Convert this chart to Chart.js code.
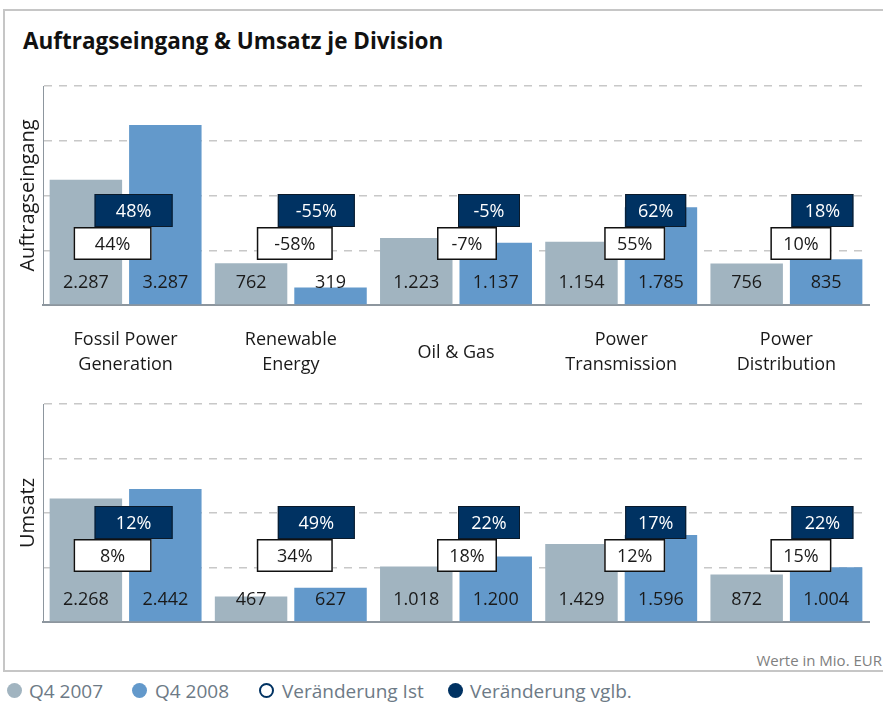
<!DOCTYPE html>
<html>
<head>
<meta charset="utf-8">
<script src="https://cdn.jsdelivr.net/npm/chart.js@4.4.1/dist/chart.umd.min.js"></script>
<style>
  body { margin: 0; background: #fff; font-family: "Open Sans", sans-serif; }
  #frame { position: absolute; left: 3px; top: 9px; width: 900px; height: 659px;
           border: 2px solid #c6c6c6; border-right: none; }
  #title { position: absolute; left: 23px; top: 28px; font-size: 22.5px; font-weight: bold;
           line-height: 26px; color: #111; }
  #boxTop { position: absolute; left: 0; top: 0; width: 883px; height: 390px; }
  #boxBot { position: absolute; left: 0; top: 390px; width: 883px; height: 250px; }
  #note { position: absolute; right: 1px; top: 650px; font-size: 15px; color: #808080; }
  .lg { position: absolute; top: 679px; font-size: 19px; line-height: 24px; color: #6d7a86; }
  .dot { position: absolute; top: 683px; width: 15px; height: 15px; border-radius: 50%; box-sizing: border-box; }
</style>
</head>
<body>
<div id="frame"></div>
<div id="title">Auftragseingang &amp; Umsatz je Division</div>
<div id="boxTop"><canvas id="chartTop"></canvas></div>
<div id="boxBot"><canvas id="chartBot"></canvas></div>
<div id="note">Werte in Mio. EUR</div>

<div class="dot" style="left:7px;background:#a1b4c0"></div>
<div class="lg" style="left:29px">Q4 2007</div>
<div class="dot" style="left:132px;background:#6399cb"></div>
<div class="lg" style="left:155px">Q4 2008</div>
<div class="dot" style="left:259px;border:2.5px solid #003262"></div>
<div class="lg" style="left:282px">Veränderung Ist</div>
<div class="dot" style="left:448px;background:#003262"></div>
<div class="lg" style="left:470px">Veränderung vglb.</div>

<script>
var categories = [['Fossil Power', 'Generation'], ['Renewable', 'Energy'], 'Oil & Gas',
                  ['Power', 'Transmission'], ['Power', 'Distribution']];

// Auftragseingang (Mio. EUR)
var auftragQ407 = [2287, 762, 1223, 1154, 756];
var auftragQ408 = [3287, 319, 1137, 1785, 835];
var auftragIst = [44, -58, -7, 55, 10];
var auftragVglb = [48, -55, -5, 62, 18];

// Umsatz (Mio. EUR)
var umsatzQ407 = [2268, 467, 1018, 1429, 872];
var umsatzQ408 = [2442, 627, 1200, 1596, 1004];
var umsatzIst = [8, 34, 18, 12, 15];
var umsatzVglb = [12, 49, 22, 17, 22];

var yMax = 4000;
var yStep = 1000;

var grey = '#a1b4c0';
var blue = '#6399cb';
var navy = '#003262';
var axisGrey = '#8d969e';

// where the percent boxes sit, relative to the category centre
var boxShift = [-31, -13, 2, 4, 5];
var navyW = [78, 77, 62, 61, 62];
var whiteW = [78, 76, 60, 61, 61];

function fmt(v) {
    return String(v).replace(/\B(?=(\d{3})+(?!\d))/g, '.');
}

var valueLabels = {
    id: 'valueLabels',
    afterDatasetsDraw: function (chart) {
        var ctx = chart.ctx;
        ctx.save();
        ctx.font = '18px "Open Sans"';
        ctx.fillStyle = '#1a1a1a';
        ctx.textAlign = 'center';
        ctx.textBaseline = 'middle';
        chart.data.datasets.forEach(function (ds, d) {
            chart.getDatasetMeta(d).data.forEach(function (bar, i) {
                ctx.fillText(fmt(ds.data[i]), bar.x, chart.chartArea.bottom - 22);
            });
        });
        ctx.restore();
    }
};

var pctBoxes = {
    id: 'pctBoxes',
    afterDraw: function (chart, args, opts) {
        var ctx = chart.ctx;
        var xs = chart.scales.x;
        var top = chart.chartArea.top + opts.offset;
        var h = 33;
        ctx.save();
        ctx.font = '18px "Open Sans"';
        ctx.textAlign = 'center';
        ctx.textBaseline = 'middle';
        for (var i = 0; i < opts.vglb.length; i++) {
            var c = xs.getPixelForValue(i);
            var nx = c + boxShift[i];
            ctx.fillStyle = navy;
            ctx.fillRect(nx, top, navyW[i], h);
            ctx.lineWidth = 1;
            ctx.strokeStyle = '#0b1a2a';
            ctx.strokeRect(nx + 0.5, top + 0.5, navyW[i] - 1, h - 1);
            ctx.fillStyle = '#ffffff';
            ctx.fillText(opts.vglb[i] + '%', nx + navyW[i] / 2, top + h / 2 + 1);

            var wx = nx - 21;
            ctx.fillStyle = '#ffffff';
            ctx.fillRect(wx, top + h, whiteW[i], h);
            ctx.lineWidth = 1.5;
            ctx.strokeStyle = '#111111';
            ctx.strokeRect(wx + 0.75, top + h + 0.75, whiteW[i] - 1.5, h - 1.5);
            ctx.fillStyle = '#1a1a1a';
            ctx.fillText(opts.ist[i] + '%', wx + whiteW[i] / 2, top + h * 1.5 + 1);
        }
        ctx.restore();
    }
};

function makeChart(canvasId, q407, q408, ist, vglb, axisTitle, showLabels, padTop, boxOffset, xHeight) {
    return new Chart(document.getElementById(canvasId), {
        type: 'bar',
        data: {
            labels: categories,
            datasets: [
                { label: 'Q4 2007', data: q407, backgroundColor: grey,
                  barPercentage: 0.912, categoryPercentage: 0.962 },
                { label: 'Q4 2008', data: q408, backgroundColor: blue,
                  barPercentage: 0.912, categoryPercentage: 0.962 }
            ]
        },
        options: {
            responsive: true,
            maintainAspectRatio: false,
            animation: false,
            layout: { padding: { left: 5, right: 14, top: padTop, bottom: 0 } },
            plugins: {
                legend: { display: false },
                tooltip: { enabled: false },
                pctBoxes: { ist: ist, vglb: vglb, offset: boxOffset }
            },
            scales: {
                x: {
                    grid: { display: false, drawTicks: false },
                    border: { display: true, color: axisGrey, width: 2 },
                    ticks: {
                        display: showLabels,
                        padding: 35,
                        crossAlign: 'center',
                        color: '#1a1a1a',
                        font: { family: '"Open Sans"', size: 18, lineHeight: 1.4 }
                    },
                    afterFit: function (s) { s.height = xHeight; }
                },
                y: {
                    min: 0,
                    max: yMax,
                    ticks: { display: false, stepSize: yStep },
                    grid: {
                        drawTicks: false,
                        color: function (c) { return c.tick && c.tick.value === 0 ? 'rgba(0,0,0,0)' : '#c8c8c8'; },
                        lineWidth: 1.5
                    },
                    border: { display: true, color: axisGrey, width: 1, dash: [8, 7] },
                    title: {
                        display: true,
                        text: axisTitle,
                        color: '#1a1a1a',
                        padding: { top: 11, bottom: 0 },
                        font: { family: '"Open Sans"', size: 20 }
                    },
                    afterFit: function (s) { s.width = 38; }
                }
            }
        },
        plugins: [valueLabels, pctBoxes]
    });
}

makeChart('chartTop', auftragQ407, auftragQ408, auftragIst, auftragVglb,
          'Auftragseingang', true, 86, 108, 85);
makeChart('chartBot', umsatzQ407, umsatzQ408, umsatzIst, umsatzVglb,
          'Umsatz', false, 14, 102, 18);
</script>
</body>
</html>
